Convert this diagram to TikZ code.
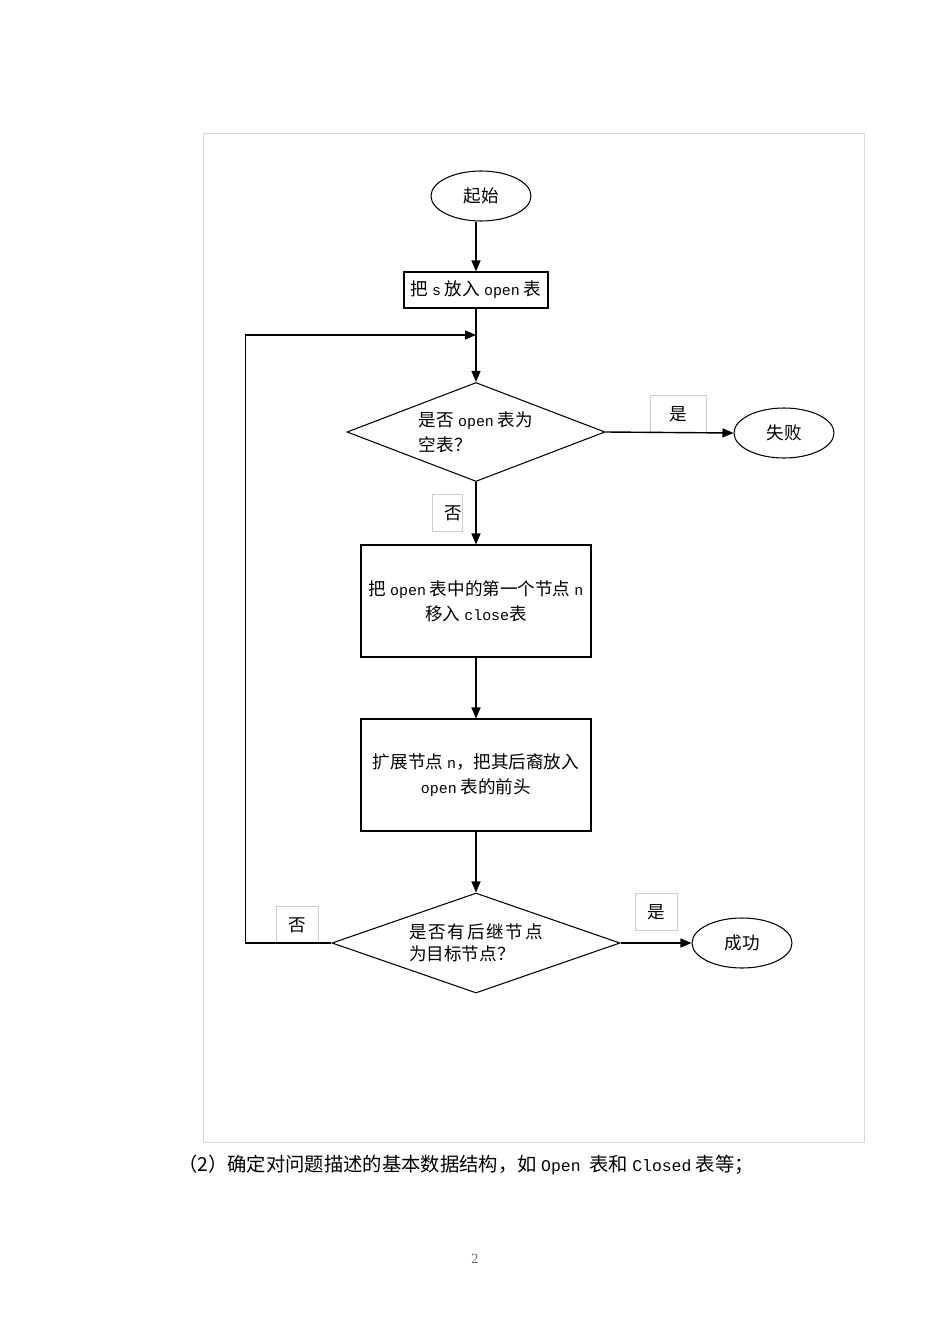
\documentclass[tikz,border=0pt]{standalone}
\usepackage{fontspec}
\setmainfont{Liberation Serif}
\setmonofont[Scale=0.85]{Liberation Mono}
\newfontfamily\cjk{Noto Sans CJK SC}
\usetikzlibrary{arrows.meta,positioning,shapes.geometric}
\newcommand{\en}[1]{{\ttfamily #1}}

\begin{document}
\begin{tikzpicture}[
  x=0.2mm, y=-0.2mm,
  every node/.style={font=\cjk\fontsize{10}{14.2}\selectfont},
  terminal/.style={draw, ellipse, semithick, minimum width=20mm, minimum height=10mm, inner sep=0pt},
  process/.style={draw, rectangle, semithick, align=center, inner sep=0pt},
  decision/.style={draw, diamond, semithick, aspect=2.6, align=left, inner sep=0pt},
  tag/.style={draw=black!20, inner sep=0pt, minimum height=7.3mm},
  flow/.style={-{Triangle[length=2.2mm, width=1.8mm]}, thick}
]
  \useasboundingbox (0,0) rectangle (950,1344);

  % Page frame
  \draw[black!15] (203,133) rectangle (864,1142);

  % Main column
  \node[terminal] (start) at (481,196) {起始};
  \node[process, minimum width=28.8mm, minimum height=7.2mm] (putS) at (476,290)
    {把 \en{s} 放入 \en{open} 表};
  \node[decision, minimum width=51.6mm, minimum height=19.8mm] (isEmpty) at (476,432)
    {是否 \en{open} 表为\\空表？};
  \node[process, minimum width=46mm, minimum height=22.4mm] (moveN) at (476,601)
    {把 \en{open} 表中的第一个节点 \en{n}\\移入 \en{close}表};
  \node[process, minimum width=46mm, minimum height=22.4mm] (expand) at (476,775)
    {扩展节点 \en{n}，把其后裔放入\\\en{open} 表的前头};
  \node[decision, minimum width=57.6mm, minimum height=20mm,
        font=\cjk\fontsize{10}{12.6}\selectfont] (isGoal) at (476,943)
    {是\kern.35mm 否\kern.35mm 有\kern.35mm 后\kern.35mm 继\kern.35mm 节\kern.35mm 点\\为目标节点？};

  % End states
  \node[terminal] (fail) at (784,433) {失败};
  \node[terminal] (success) at (742,943) {成功};

  % Yes / no tags
  \node[tag, minimum width=11.2mm] (yes1) at (678,414) {是\hspace{4mm}};
  \node[tag, minimum width=6mm] (no1) at (447,513) {\hspace{2.4mm}否};
  \node[tag, minimum width=8.4mm] (yes2) at (656,912) {是};
  \node[tag, minimum width=8.4mm] (no2) at (297,925) {否};

  % Flow
  \foreach \a/\b in {start/putS, putS/isEmpty, isEmpty/moveN, moveN/expand, expand/isGoal} {
    \draw[flow] (\a.south -| \b.north) -- (\b.north);
  }
  \draw[flow] (isEmpty.east) -- (fail.west);
  \draw[flow] (isGoal.east) -- (success.west);

  % Loop back
  \coordinate (join) at (476,335);
  \draw[flow] (isGoal.west) -- ++(-86,0) |- (join);

  % Caption and page number
  \node[anchor=base west, font=\cjk\fontsize{11}{13}\selectfont] (caption) at (172,1171)
    {（2）确定对问题描述的基本数据结构，如 \en{Open}\ \ 表和 \en{Closed} 表等；};
  \node[font=\rmfamily\fontsize{8}{10}\selectfont, text=black!60] (pageno) at (475,1259) {2};
\end{tikzpicture}
\end{document}
